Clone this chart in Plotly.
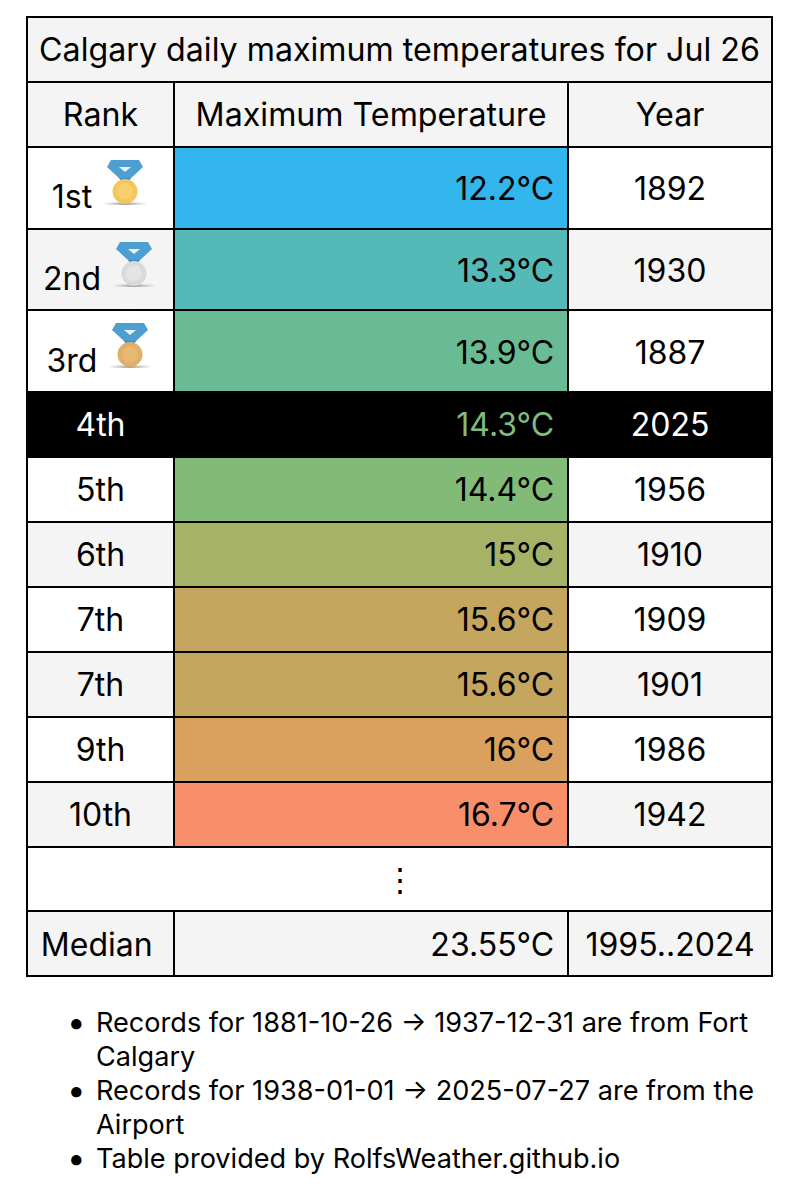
import base64
import plotly.graph_objects as go

title = "Calgary daily maximum temperatures for Jul 26"
header = ["Rank", "Maximum Temperature", "Year"]

ranks_top = ["1st", "2nd", "3rd"]
temps_top = ["12.2°C", "13.3°C", "13.9°C"]
years_top = ["1892", "1930", "1887"]
colors_top = ["#33B5EE", "#55B9B7", "#68BB95"]

ranks = ["5th", "6th", "7th", "7th", "9th", "10th"]
temps = ["14.4°C", "15°C", "15.6°C", "15.6°C", "16°C", "16.7°C"]
years = ["1956", "1910", "1909", "1901", "1986", "1942"]
colors = ["#82BA78", "#A6B266", "#C4A65E", "#C4A65E", "#D9A05E", "#F98F6A"]

notes = [
    ["Records for 1881-10-26 → 1937-12-31 are from Fort", "Calgary"],
    ["Records for 1938-01-01 → 2025-07-27 are from the", "Airport"],
    ["Table provided by RolfsWeather.github.io"],
]

W, H = 799, 1200
FONT = "Inter"
SIZE = 32
GREY = "#F4F4F4"
CLEAR = "rgba(0,0,0,0)"
COLS = [147, 394, 204]
X0, X1 = 27, 772
pad = "\u2009"

fig = go.Figure()


def layer(top, n, row_h, vals, fill, line, font, align, widths, x0=X0, x1=X1, size=SIZE):
    # first row goes in the header, an empty header would still take up height
    if isinstance(fill, str):
        fill = [[fill] * n for _ in vals]
    style = dict(height=row_h, line=dict(color=line, width=2), align=align,
                 font=dict(family=FONT, size=size, color=font))
    fig.add_trace(go.Table(
        domain=dict(x=[x0 / W, x1 / W], y=[1 - (top + n * row_h) / H, 1 - top / H]),
        columnwidth=widths,
        header=dict(values=[v[0] for v in vals], fill_color=[f[0] for f in fill], **style),
        cells=dict(values=[v[1:] for v in vals], fill_color=[f[1:] for f in fill], **style),
    ))


# plotly tables put text at the top of the cell, so the text sits in its own layer pushed down
def rows(top, row_h, vals, fill, font="black", align="center", widths=COLS, dy=12, size=SIZE):
    n = len(vals[0])
    blank = [[""] * n for _ in vals]
    layer(top, n, row_h, blank, fill, "black", "black", "center", widths)
    layer(top + dy, n, row_h, vals, CLEAR, CLEAR, font, align, widths, size=size)


def stripes(first, n):
    other = GREY if first == "white" else "white"
    return [first if i % 2 == 0 else other for i in range(n)]


ALIGN = ["center", "right", "center"]

# title text layer runs wider than the table so the line does not wrap
layer(17, 1, 65, [[""]], GREY, "black", "black", "center", [745])
layer(17 + 12, 1, 65, [[title]], CLEAR, CLEAR, "black", "center", [785], x0=7, x1=792, size=32.2)
rows(82, 65, [[header[0]], [header[1]], [header[2]]], GREY, size=32.2)

# top three: rank text goes in its own narrower layer, next to the medal
top_fill = stripes("white", 3)
n = 3
layer(147, n, 245 / 3, [[""] * n] * 3, [top_fill, colors_top, top_fill], "black", "black", "center", COLS)
layer(147 + 21, n, 82, [[""] * n, [t + pad for t in temps_top], years_top], CLEAR, CLEAR, "black", ALIGN, COLS)
layer(147 + 29, n, 82, [ranks_top], CLEAR, CLEAR, "black", "center", [90], x0=X0, x1=X0 + 90)

rows(392, 65, [["4th"], ["14.3°C" + pad], ["2025"]], "black", font=["white", "#7FBB7E", "white"], align=ALIGN)

fill_rest = stripes("white", 6)
rows(457, 65, [ranks, [t + pad for t in temps], years], [fill_rest, colors, fill_rest], align=ALIGN)

rows(847, 64, [["⋮"]], "white", widths=[745])
rows(911, 65, [[pad + "Median"], ["23.55°C" + pad], ["1995..2024"]], GREY, align=["left", "right", "center"], dy=13)

# outer frame is a bit heavier than the grid lines
fig.add_shape(type="rect", xref="paper", yref="paper", x0=X0 / W, x1=X1 / W, y0=1 - 976 / H, y1=1 - 17 / H,
              line=dict(color="black", width=2))

y = 1022
for note in notes:
    fig.add_annotation(x=65 / W, y=1 - y / H, xref="paper", yref="paper", text="•", showarrow=False,
                       xanchor="left", yanchor="middle", font=dict(family=FONT, size=33, color="black"))
    for line in note:
        fig.add_annotation(x=94 / W, y=1 - y / H, xref="paper", yref="paper", text=line, showarrow=False,
                           xanchor="left", yanchor="middle", font=dict(family=FONT, size=27.1, color="black"))
        y += 34


def medal(disk, rim):
    svg = f"""<svg xmlns="http://www.w3.org/2000/svg" width="44" height="50" viewBox="0 0 44 50">
<defs><linearGradient id="s"><stop offset="0" stop-color="#aaa" stop-opacity="0"/>
<stop offset=".5" stop-color="#999"/><stop offset="1" stop-color="#aaa" stop-opacity="0"/></linearGradient>
<filter id="b"><feGaussianBlur stdDeviation=".5"/></filter></defs>
<g filter="url(#b)">
<rect x="0" y="44.5" width="44" height="2.4" fill="url(#s)"/>
<path d="M8 2H36L40 9 27 21H17L4 9Z" fill="#4E9FD1"/>
<path d="M16 9H28L22 14Z" fill="#EAF3F8"/>
<path d="M16 20H28L25 24H19Z" fill="#3F8FC2"/>
<circle cx="22" cy="33.5" r="12.5" fill="{rim}"/>
<circle cx="22" cy="33.5" r="8" fill="{disk}"/>
</g></svg>"""
    return "data:image/svg+xml;base64," + base64.b64encode(svg.encode()).decode()


# left, top of each medal picture
medals = [(103, 158, "#F6D06A", "#F2C75F"), (112, 240, "#E4E4E4", "#DADADA"), (108, 321, "#E8B974", "#E2AF6A")]
for mx, my, disk, rim in medals:
    fig.add_layout_image(source=medal(disk, rim), xref="paper", yref="paper", x=mx / W, y=1 - my / H,
                         sizex=44 / W, sizey=50 / H, xanchor="left", yanchor="top", sizing="stretch", layer="above")

fig.update_layout(width=W, height=H, margin=dict(l=0, r=0, t=0, b=0), paper_bgcolor="white")
fig.write_html("out.html", config=dict(displayModeBar=False), post_script="document.body.style.margin='0';")
